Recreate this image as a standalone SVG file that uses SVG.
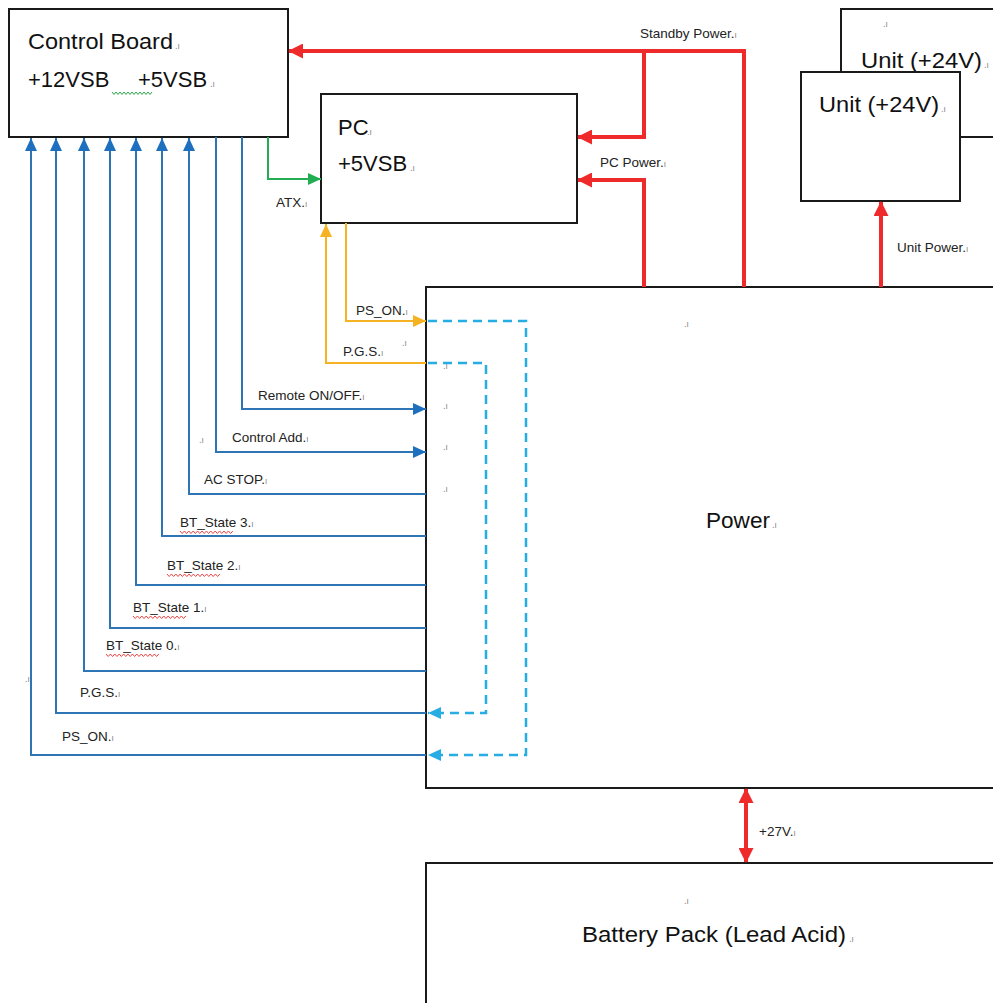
<svg xmlns="http://www.w3.org/2000/svg" width="993" height="1003" viewBox="0 0 993 1003">
<style>
.box{fill:#fff;stroke:#1a1a1a;stroke-width:2}
.big{font-family:"Liberation Sans",Arial,sans-serif;font-size:22px;fill:#111}
.lbl{font-family:"Liberation Sans",Arial,sans-serif;font-size:13.5px;fill:#222}
.pm{font-family:"DejaVu Sans","Liberation Sans",sans-serif;font-size:8px;fill:#808080}
.blue{fill:none;stroke:#2e75b6;stroke-width:2}
.red{fill:none;stroke:#ee2a2a;stroke-width:4}
.org{fill:none;stroke:#f5b324;stroke-width:2}
.grn{fill:none;stroke:#22ad52;stroke-width:2}
.cyan{fill:none;stroke:#26ade4;stroke-width:2.5;stroke-dasharray:9,6}
.wr{fill:none;stroke:#e84545;stroke-width:1}
.wg{fill:none;stroke:#2aa64a;stroke-width:1}
</style>
<defs>
<marker id="aB" markerUnits="userSpaceOnUse" markerWidth="13" markerHeight="12" refX="13" refY="6" orient="auto"><path d="M0,0 L13,6 L0,12 z" fill="#1f6fbf"/></marker>
<marker id="aR" markerUnits="userSpaceOnUse" markerWidth="15" markerHeight="15" refX="14" refY="7.5" orient="auto-start-reverse"><path d="M0,0 L15,7.5 L0,15 z" fill="#ee2a2a"/></marker>
<marker id="aO" markerUnits="userSpaceOnUse" markerWidth="13" markerHeight="12" refX="13" refY="6" orient="auto"><path d="M0,0 L13,6 L0,12 z" fill="#f5b324"/></marker>
<marker id="aG" markerUnits="userSpaceOnUse" markerWidth="13" markerHeight="12" refX="13" refY="6" orient="auto"><path d="M0,0 L13,6 L0,12 z" fill="#22ad52"/></marker>
<marker id="aC" markerUnits="userSpaceOnUse" markerWidth="13" markerHeight="12" refX="13" refY="6" orient="auto"><path d="M0,0 L13,6 L0,12 z" fill="#26ade4"/></marker>
</defs>

<g id="control-board">
<rect class="box" x="9" y="9" width="279" height="128"/>
<text class="big" x="28" y="49" font-size="23.5" textLength="145" lengthAdjust="spacingAndGlyphs">Control Board</text>
<text class="pm" x="175" y="49">.ı</text>
<text class="big" x="28" y="87">+12VSB</text>
<text class="big" x="138" y="87">+5VSB</text>
<text class="pm" x="210" y="87">.ı</text>
<path class="wg" d="M112,92 l2,2.5 2,-2.5 2,2.5 2,-2.5 2,2.5 2,-2.5 2,2.5 2,-2.5 2,2.5 2,-2.5 2,2.5 2,-2.5 2,2.5 2,-2.5 2,2.5 2,-2.5 2,2.5 2,-2.5 2,2.5 2,-2.5"/>
</g>

<g id="pc">
<rect class="box" x="321" y="94" width="256" height="129"/>
<text class="big" x="338" y="135">PC</text>
<text class="pm" x="367" y="135">.ı</text>
<text class="big" x="338" y="171">+5VSB</text>
<text class="pm" x="410" y="171">.ı</text>
</g>

<g id="unit-back">
<rect class="box" x="841" y="9" width="200" height="128"/>
<text class="pm" x="883" y="27">.ı</text>
<text class="big" x="861" y="68" textLength="121" lengthAdjust="spacingAndGlyphs">Unit (+24V)</text>
<text class="pm" x="984" y="68">.ı</text>
</g>

<g id="unit-front">
<rect class="box" x="801" y="72" width="159" height="129"/>
<text class="big" x="819" y="112" textLength="120" lengthAdjust="spacingAndGlyphs">Unit (+24V)</text>
<text class="pm" x="941" y="112">.ı</text>
</g>

<g id="power">
<rect class="box" x="426" y="287" width="600" height="501"/>
<text class="pm" x="684" y="327">.ı</text>
<text class="big" x="706" y="528" textLength="64" lengthAdjust="spacingAndGlyphs">Power</text>
<text class="pm" x="772" y="528">.ı</text>
<text class="pm" x="443" y="369">.ı</text>
<text class="pm" x="443" y="409">.ı</text>
<text class="pm" x="443" y="450">.ı</text>
<text class="pm" x="443" y="492">.ı</text>
</g>

<g id="battery">
<rect class="box" x="426" y="863" width="600" height="200"/>
<text class="pm" x="684" y="904">.ı</text>
<text class="big" x="582" y="942" font-size="23" textLength="264" lengthAdjust="spacingAndGlyphs">Battery Pack (Lead Acid)</text>
<text class="pm" x="849" y="942">.ı</text>
</g>

<g id="connectors">
<path class="red" d="M744,287 V51 H289" marker-end="url(#aR)"/>
<path class="red" d="M644,51 V137 H578" marker-end="url(#aR)"/>
<path class="red" d="M644,287 V180 H578" marker-end="url(#aR)"/>
<path class="red" d="M881,287 V202" marker-end="url(#aR)"/>
<path class="red" d="M746,789 V862" marker-start="url(#aR)" marker-end="url(#aR)"/>

<path class="blue" d="M426,755 H31 V138" marker-end="url(#aB)"/>
<path class="blue" d="M426,713 H56 V138" marker-end="url(#aB)"/>
<path class="blue" d="M426,671 H84 V138" marker-end="url(#aB)"/>
<path class="blue" d="M426,628 H110 V138" marker-end="url(#aB)"/>
<path class="blue" d="M426,585 H136 V138" marker-end="url(#aB)"/>
<path class="blue" d="M426,536 H162 V138" marker-end="url(#aB)"/>
<path class="blue" d="M426,494 H189 V138" marker-end="url(#aB)"/>
<path class="blue" d="M216,137 V452 H426" marker-end="url(#aB)"/>
<path class="blue" d="M242,137 V409 H426" marker-end="url(#aB)"/>

<path class="grn" d="M268,137 V179 H321" marker-end="url(#aG)"/>
<path class="org" d="M346,223 V321 H426" marker-end="url(#aO)"/>
<path class="org" d="M426,363 H326 V224" marker-end="url(#aO)"/>

<path class="cyan" d="M428,321 H526 V755 H428" marker-end="url(#aC)"/>
<path class="cyan" d="M428,363 H486 V713 H428" marker-end="url(#aC)"/>

<text class="lbl" x="640" y="38">Standby Power.<tspan class="pm">ı</tspan></text>
<text class="lbl" x="600" y="167">PC Power.<tspan class="pm">ı</tspan></text>
<text class="lbl" x="897" y="252">Unit Power.<tspan class="pm">ı</tspan></text>
<text class="lbl" x="759" y="836" font-size="12">+27V.<tspan class="pm">ı</tspan></text>
<text class="lbl" x="276" y="207">ATX.<tspan class="pm">ı</tspan></text>
<text class="lbl" x="356" y="315">PS_ON.<tspan class="pm">ı</tspan></text>
<text class="lbl" x="343" y="356">P.G.S.<tspan class="pm">ı</tspan></text>
<text class="pm" x="402" y="346">.ı</text>
<text class="lbl" x="258" y="400">Remote ON/OFF.<tspan class="pm">ı</tspan></text>
<text class="lbl" x="232" y="442">Control Add.<tspan class="pm">ı</tspan></text>
<text class="pm" x="199" y="443">.ı</text>
<text class="lbl" x="204" y="484">AC STOP.<tspan class="pm">ı</tspan></text>
<text class="lbl" x="180" y="527">BT_State 3.<tspan class="pm">ı</tspan></text>
<text class="lbl" x="167" y="570">BT_State 2.<tspan class="pm">ı</tspan></text>
<text class="lbl" x="133" y="612">BT_State 1.<tspan class="pm">ı</tspan></text>
<text class="lbl" x="106" y="650">BT_State 0.<tspan class="pm">ı</tspan></text>
<text class="lbl" x="80" y="697">P.G.S.<tspan class="pm">ı</tspan></text>
<text class="lbl" x="62" y="741">PS_ON.<tspan class="pm">ı</tspan></text>
<text class="pm" x="25" y="682">.ı</text>
<path class="wr" d="M180,531 l2.2,2.5 2.2,-2.5 2.2,2.5 2.2,-2.5 2.2,2.5 2.2,-2.5 2.2,2.5 2.2,-2.5 2.2,2.5 2.2,-2.5 2.2,2.5 2.2,-2.5 2.2,2.5 2.2,-2.5 2.2,2.5 2.2,-2.5 2.2,2.5 2.2,-2.5 2.2,2.5 2.2,-2.5 2.2,2.5 2.2,-2.5 2.2,2.5 2.2,-2.5"/>
<path class="wr" d="M167,574 l2.2,2.5 2.2,-2.5 2.2,2.5 2.2,-2.5 2.2,2.5 2.2,-2.5 2.2,2.5 2.2,-2.5 2.2,2.5 2.2,-2.5 2.2,2.5 2.2,-2.5 2.2,2.5 2.2,-2.5 2.2,2.5 2.2,-2.5 2.2,2.5 2.2,-2.5 2.2,2.5 2.2,-2.5 2.2,2.5 2.2,-2.5 2.2,2.5 2.2,-2.5"/>
<path class="wr" d="M133,616 l2.2,2.5 2.2,-2.5 2.2,2.5 2.2,-2.5 2.2,2.5 2.2,-2.5 2.2,2.5 2.2,-2.5 2.2,2.5 2.2,-2.5 2.2,2.5 2.2,-2.5 2.2,2.5 2.2,-2.5 2.2,2.5 2.2,-2.5 2.2,2.5 2.2,-2.5 2.2,2.5 2.2,-2.5 2.2,2.5 2.2,-2.5 2.2,2.5 2.2,-2.5"/>
<path class="wr" d="M106,654 l2.2,2.5 2.2,-2.5 2.2,2.5 2.2,-2.5 2.2,2.5 2.2,-2.5 2.2,2.5 2.2,-2.5 2.2,2.5 2.2,-2.5 2.2,2.5 2.2,-2.5 2.2,2.5 2.2,-2.5 2.2,2.5 2.2,-2.5 2.2,2.5 2.2,-2.5 2.2,2.5 2.2,-2.5 2.2,2.5 2.2,-2.5 2.2,2.5 2.2,-2.5"/>
</g>
</svg>
